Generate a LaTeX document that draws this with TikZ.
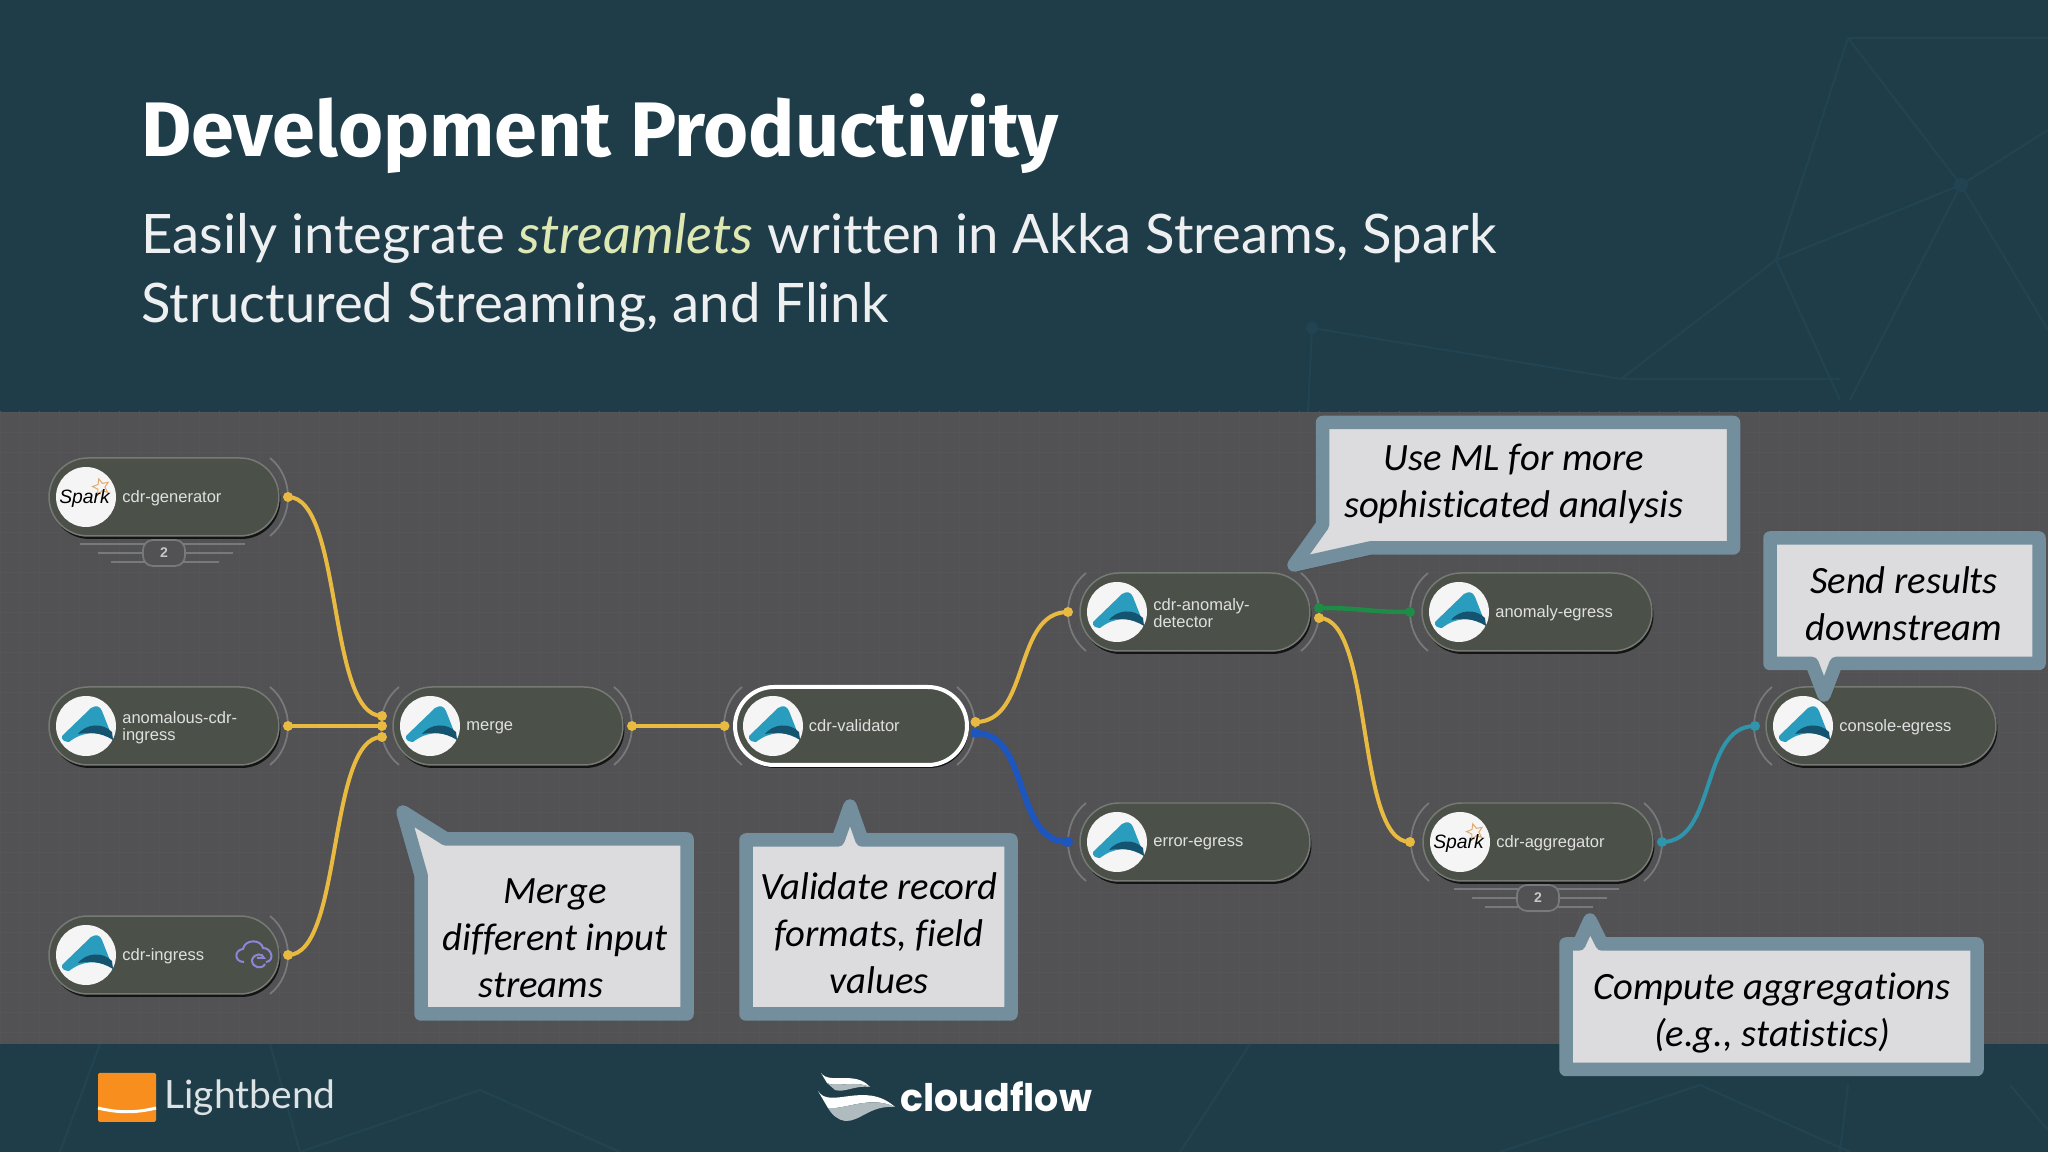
\documentclass[tikz,border=0pt]{standalone}
\usepackage{fontspec}
\setmainfont[Ligatures=CommonOff]{Lato}
\newfontfamily\titlefont[Ligatures=CommonOff]{Fira Sans}
\newfontfamily\calloutfont[Ligatures=CommonOff]{Carlito}
\newfontfamily\pillfont{Liberation Sans}
\newfontfamily\logofont{Poppins}
\usetikzlibrary{shadows,shapes.geometric}
\definecolor{slatebg}{RGB}{30,61,73}
\definecolor{slateline}{RGB}{34,68,82}
\definecolor{panelbg}{RGB}{82,81,84}
\definecolor{panelgrid}{RGB}{85,84,87}
\definecolor{pillfill}{RGB}{75,81,72}
\definecolor{pilledge}{RGB}{118,122,116}
\definecolor{arcgray}{RGB}{120,121,122}
\definecolor{streamyellow}{RGB}{232,186,66}
\definecolor{streamblue}{RGB}{28,86,190}
\definecolor{streamgreen}{RGB}{30,140,70}
\definecolor{streamteal}{RGB}{48,148,170}
\definecolor{calloutedge}{RGB}{115,143,158}
\definecolor{calloutfill}{RGB}{220,220,222}
\definecolor{akkalight}{RGB}{42,157,191}
\definecolor{akkadark}{RGB}{20,84,112}
\definecolor{sparkorange}{RGB}{226,170,110}
\definecolor{cloudviolet}{RGB}{140,134,216}
\definecolor{lightorange}{RGB}{247,142,30}
\definecolor{streamletcolor}{RGB}{222,232,178}
\def\s{0.02}
\def\punkt#1#2{({(#1)*\s},{(1152-(#2))*\s})}
\tikzset{
	pillnode/.style={rectangle,rounded corners=.78cm,minimum width=4.6cm,minimum height=1.56cm,inner sep=0,fill=pillfill,draw=pilledge,line width=.03cm,drop shadow={shadow xshift=.03cm,shadow yshift=-.06cm,fill=black,opacity=.75}},
	iconnode/.style={circle,fill=white!96!black,minimum size=1.2cm,inner sep=0},
	pilltext/.style={anchor=west,align=left,inner sep=0,text=white!88!black,font=\pillfont\fontsize{9.4}{9.6}\selectfont},
	portdot/.style={circle,inner sep=0,minimum size=.2cm},
	portarc/.style={draw=arcgray,line width=.035cm},
	streamline/.style={line width=.08cm,line cap=round},
	calloutbox/.style={draw=calloutedge,fill=calloutfill,line width=.27cm,line join=round,
		preaction={draw=black,opacity=.1,transform canvas={xshift=.1cm,yshift=-.12cm}},
		preaction={draw=black,opacity=.12,transform canvas={xshift=.05cm,yshift=-.06cm}}},
	callouttext/.style={align=center,text=black,inner sep=0,font=\calloutfont\itshape\fontsize{22}{26.7}\selectfont},
	replicanode/.style={rectangle,rounded corners=.2cm,minimum width=.84cm,minimum height=.52cm,inner sep=0,fill=panelbg,draw=arcgray,line width=.035cm,text=white!78!black,font=\pillfont\bfseries\fontsize{8}{8}\selectfont},
	replicaline/.style={draw=arcgray,line width=.03cm},
	bgline/.style={draw=slateline,line width=.04cm},
	akkaicon/.pic={
		\begin{scope}[scale=\s]
		\fill[akkalight] (-24,-10) -- (5,18) .. controls (10,21) and (14,20) .. (16,15) -- (27,-13) .. controls (12,-5) and (-3,-5) .. (-17,-16) .. controls (-21,-16) and (-25,-14) .. (-24,-10) -- cycle;
		\fill[akkadark] (-8,-8) .. controls (0,2) and (16,4) .. (26,-6) -- (27,-14) .. controls (14,-6) and (4,-6) .. (-8,-8) -- cycle;
		\end{scope}
	},
	sparkicon/.pic={
		\node[star,star points=5,star point ratio=2.2,draw=sparkorange,line width=.02cm,inner sep=0,minimum size=.34cm,rotate=15] (sparkstar) at (.3,.2) {};
		\node[inner sep=0,text=black,font=\pillfont\itshape\fontsize{11}{11}\selectfont] (sparkword) at (-.03,-.03) {Spark};
	},
	cloudicon/.pic={
		\begin{scope}[scale=\s,cloudviolet,line width=.04cm]
		\draw (-11,-7) .. controls (-21,-7) and (-21,5) .. (-12,6) .. controls (-10,16) and (6,16) .. (8,7) .. controls (17,7) and (20,-6) .. (11,-7);
		\draw (-3,-5) .. controls (-3,-13) and (7,-15) .. (10,-9);
		\draw (-3,-5) .. controls (-1,2) and (8,2) .. (9,-3) -- (2,-3);
		\end{scope}
	}
}

\begin{document}
\begin{tikzpicture}
\useasboundingbox \punkt{0}{0} rectangle \punkt{2048}{1152};
\fill[color=slatebg] \punkt{0}{0} rectangle \punkt{2048}{1152};
\draw[bgline] \punkt{2048}{38} -- \punkt{1848}{38} -- \punkt{1961}{185} -- \punkt{2048}{130};
\draw[bgline] \punkt{1848}{38} -- \punkt{1776}{260} -- \punkt{1961}{185} -- \punkt{2048}{330};
\draw[bgline] \punkt{1776}{260} -- \punkt{1621}{379} -- \punkt{1312}{328} -- \punkt{1308}{412};
\draw[bgline] \punkt{1776}{260} -- \punkt{1840}{400};
\draw[bgline] \punkt{1961}{185} -- \punkt{1850}{400};
\draw[bgline] \punkt{1621}{379} -- \punkt{1840}{379};
\fill[color=slateline] \punkt{1961}{185} circle (.14);
\fill[color=slateline] \punkt{1312}{328} circle (.12);
\draw[bgline] \punkt{100}{1044} -- \punkt{60}{1152};
\draw[bgline] \punkt{270}{1044} -- \punkt{300}{1152} -- \punkt{480}{1090} -- \punkt{620}{1152};
\draw[bgline] \punkt{1180}{1152} -- \punkt{1250}{1044};
\draw[bgline] \punkt{1500}{1152} -- \punkt{1700}{1085} -- \punkt{1850}{1152};
\draw[bgline] \punkt{1848}{1085} -- \punkt{1840}{1152};
\draw[bgline] \punkt{2048}{1130} -- \punkt{2010}{1085};

\fill[color=panelbg] \punkt{0}{412} rectangle \punkt{2048}{1044};
\begin{scope}
\clip \punkt{0}{412} rectangle \punkt{2048}{1044};
\draw[color=panelgrid,line width=.02cm,step=.4] \punkt{0}{400} grid \punkt{2048}{1052};
\end{scope}

\node[anchor=base west,inner sep=0,text=white,font=\titlefont\bfseries\fontsize{44}{44}\selectfont] (title) at \punkt{141}{157} {Development Productivity};
\node[anchor=base west,inner sep=0,text=white!92!slatebg,font=\fontsize{31}{31}\selectfont] (subone) at \punkt{141}{254} {Easily integrate \textcolor{streamletcolor}{\textit{streamlets}} written in Akka Streams, Spark};
\node[anchor=base west,inner sep=0,text=white!92!slatebg,font=\fontsize{31}{31}\selectfont] (subtwo) at \punkt{141}{323} {Structured Streaming, and Flink};

\foreach \x/\y in {164/497,164/726,164/955,508/726,851/726,1195/612,1538/842}{
	\draw[portarc] \punkt{\x+106}{\y-39} .. controls \punkt{\x+130}{\y-20} and \punkt{\x+130}{\y+20} .. \punkt{\x+106}{\y+39};
}
\foreach \x/\y in {508/726,851/726,1195/612,1195/842,1537/612,1538/842,1881/726}{
	\draw[portarc] \punkt{\x-109}{\y-39} .. controls \punkt{\x-133}{\y-20} and \punkt{\x-133}{\y+20} .. \punkt{\x-109}{\y+39};
}

\foreach \nm/\x/\y/\col in {genout/288/497/streamyellow,anomout/288/726/streamyellow,ingout/288/955/streamyellow,mergeinone/382/716/streamyellow,mergeintwo/382/726/streamyellow,mergeinthree/382/737/streamyellow,mergeout/632/726/streamyellow,valin/724.5/726/streamyellow,valout/975.5/722/streamyellow,valerr/975.5/733/streamblue,detin/1068/612/streamyellow,errin/1068/842/streamblue,detgreen/1319/608/streamgreen,detout/1319/618/streamyellow,egrin/1410/612/streamgreen,aggin/1410/842/streamyellow,aggout/1662/842/streamteal,conin/1755/726/streamteal}{
	\node[portdot,fill=\col] (\nm) at \punkt{\x}{\y} {};
}

\draw[streamline,color=streamyellow] (genout.center) .. controls +(1.1,0) and +(-1.1,0) .. (mergeinone.center);
\draw[streamline,color=streamyellow] (anomout.center) -- (mergeintwo.center);
\draw[streamline,color=streamyellow] (ingout.center) .. controls +(1.1,0) and +(-1.1,0) .. (mergeinthree.center);
\draw[streamline,color=streamyellow] (mergeout.center) -- (valin.center);
\draw[streamline,color=streamyellow] (valout.center) .. controls +(1.1,0) and +(-1.1,0) .. (detin.center);
\draw[streamline,color=streamblue,line width=.12cm] (valerr.center) .. controls +(1.1,0) and +(-1.1,0) .. (errin.center);
\draw[streamline,color=streamgreen,line width=.09cm] (detgreen.center) .. controls +(.9,0) and +(-.9,0) .. (egrin.center);
\draw[streamline,color=streamyellow] (detout.center) .. controls +(1.1,0) and +(-1.1,0) .. (aggin.center);
\draw[streamline,color=streamteal] (aggout.center) .. controls +(1.1,0) and +(-1.1,0) .. (conin.center);

\foreach \x/\y in {164/553,1538/898}{
	\draw[replicaline] \punkt{\x-84}{\y-9} -- \punkt{\x+81}{\y-9};
	\draw[replicaline] \punkt{\x-66}{\y} -- \punkt{\x+69}{\y};
	\draw[replicaline] \punkt{\x-53}{\y+9} -- \punkt{\x+55}{\y+9};
}
\node[replicanode] (genreplica) at \punkt{164}{553} {2};
\node[replicanode] (aggreplica) at \punkt{1538}{898} {2};

\foreach \nm/\x/\y/\lbl in {gen/164/497/cdr-generator,anom/164/726/{anomalous-cdr-\\ingress},ing/164/955/cdr-ingress,merge/508/726/merge,det/1195/612/{cdr-anomaly-\\detector},err/1195/842/error-egress,egr/1537/612/anomaly-egress,agg/1538/842/cdr-aggregator,con/1881/726/console-egress}{
	\node[pillnode] (\nm) at \punkt{\x}{\y} {};
	\node[iconnode] (\nm icon) at \punkt{\x-78}{\y} {};
	\node[pilltext] (\nm text) at \punkt{\x-42}{\y+1.5} {\lbl};
}
\node[pillnode,draw=white,line width=.08cm,minimum width=4.64cm] (val) at \punkt{851}{726} {};
\node[iconnode] (val icon) at \punkt{773}{726} {};
\node[pilltext] (val text) at \punkt{808.5}{726} {cdr-validator};

\foreach \x/\y in {164/726,164/955,508/726,851/726,1195/612,1195/842,1537/612,1881/726}{
	\pic at \punkt{\x-78}{\y} {akkaicon};
}
\foreach \x/\y in {164/497,1538/842}{
	\pic at \punkt{\x-78}{\y} {sparkicon};
}
\pic at \punkt{255}{955} {cloudicon};

\draw[calloutbox] \punkt{421}{875} -- \punkt{403}{812} -- \punkt{446}{839} -- \punkt{687}{839} -- \punkt{687}{1014} -- \punkt{421}{1014} -- cycle;
\node[callouttext] (mergenote) at \punkt{555}{938} {Merge\\different input\\streams\hspace*{.56cm}};
\draw[calloutbox] \punkt{746}{840} -- \punkt{838}{840} -- \punkt{850}{806} -- \punkt{862}{840} -- \punkt{1011}{840} -- \punkt{1011}{1014} -- \punkt{746}{1014} -- cycle;
\node[callouttext] (valnote) at \punkt{879}{933} {Validate record\\formats, field\\values};
\draw[calloutbox] \punkt{1322.5}{422.5} -- \punkt{1733.5}{422.5} -- \punkt{1733.5}{548} -- \punkt{1370}{548} -- \punkt{1294}{565} -- \punkt{1322.5}{525} -- cycle;
\node[callouttext] (detnote) at \punkt{1514}{484} {Use ML for more\\sophisticated analysis};
\draw[calloutbox] \punkt{1770}{538} -- \punkt{2039}{538} -- \punkt{2039}{663.5} -- \punkt{1836}{663.5} -- \punkt{1824}{695} -- \punkt{1812}{663.5} -- \punkt{1770}{663.5} -- cycle;
\node[callouttext] (connote) at \punkt{1904}{604} {Send results\\downstream};
\draw[calloutbox] \punkt{1566}{944} -- \punkt{1579}{944} -- \punkt{1590}{920} -- \punkt{1602}{944} -- \punkt{1977}{944} -- \punkt{1977}{1069.5} -- \punkt{1566}{1069.5} -- cycle;
\node[callouttext] (aggnote) at \punkt{1772}{1013} {Compute aggregations\\(e.g., statistics)};

\fill[color=lightorange,rounded corners=.03cm] \punkt{98}{1073} rectangle \punkt{156}{1122};
\draw[color=white,line width=.06cm] \punkt{98}{1108} .. controls \punkt{118}{1113} and \punkt{136}{1113} .. \punkt{156}{1108};
\node[anchor=west,inner sep=0,text=white!85!slatebg,font=\fontsize{22.2}{22.2}\selectfont] (lightbend) at \punkt{164}{1098} {Lightbend};
\fill[color=white] \punkt{821}{1073} .. controls \punkt{830}{1085} and \punkt{855}{1070} .. \punkt{870}{1087} .. controls \punkt{855}{1080} and \punkt{835}{1088} .. \punkt{827}{1083} -- cycle;
\fill[color=white!65!slatebg] \punkt{827}{1083} .. controls \punkt{835}{1088} and \punkt{855}{1080} .. \punkt{870}{1087} .. controls \punkt{855}{1085} and \punkt{845}{1093} .. \punkt{835}{1090} -- cycle;
\fill[color=white] \punkt{818}{1091} .. controls \punkt{830}{1110} and \punkt{865}{1080} .. \punkt{895}{1107} .. controls \punkt{870}{1095} and \punkt{845}{1110} .. \punkt{828}{1108} -- cycle;
\fill[color=white!65!slatebg] \punkt{828}{1108} .. controls \punkt{845}{1110} and \punkt{870}{1095} .. \punkt{895}{1107} .. controls \punkt{870}{1105} and \punkt{860}{1122} .. \punkt{845}{1121} .. controls \punkt{838}{1120} and \punkt{832}{1115} .. \punkt{828}{1108} -- cycle;
\node[anchor=west,inner sep=0,text=white,font=\logofont\bfseries\fontsize{21.6}{21.6}\selectfont] (cloudflow) at \punkt{900}{1097} {cloudflow};
\end{tikzpicture}
\end{document}
